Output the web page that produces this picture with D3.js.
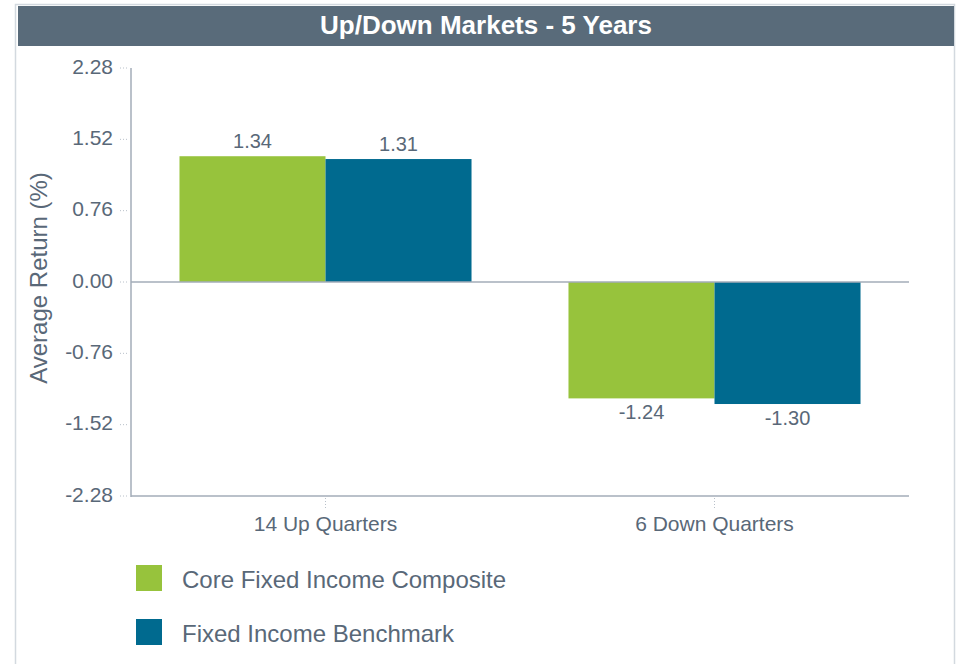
<!DOCTYPE html>
<html>
<head>
<meta charset="utf-8">
<script src="https://cdn.jsdelivr.net/npm/d3@7"></script>
<style>
  body { margin: 0; background: #fff; font-family: "Liberation Sans", Arial, sans-serif; }
</style>
</head>
<body>
<div id="chart"></div>
<script>
const categories = ['14 Up Quarters', '6 Down Quarters']
const seriesNames = ['Core Fixed Income Composite', 'Fixed Income Benchmark']
const composite = [1.34, -1.24]
const benchmark = [1.31, -1.30]
const yTicks = [2.28, 1.52, 0.76, 0.00, -0.76, -1.52, -2.28]

const colors = ['#97c33c', '#006a8f']
const textColor = '#596878'
const axisColor = '#a3adb9'

const width = 961, height = 664

const svg = d3.select('#chart').append('svg')
    .attr('width', width)
    .attr('height', height)

// outer frame + title bar
svg.append('rect')
    .attr('x', 15.5).attr('y', 4.5)
    .attr('width', 939).attr('height', 670)
    .attr('fill', 'none').attr('stroke', '#d3d9df').attr('stroke-width', 1.5)

svg.append('rect')
    .attr('x', 18).attr('y', 6)
    .attr('width', 936).attr('height', 40)
    .attr('fill', '#596b7a')

svg.append('text')
    .attr('x', 486).attr('y', 34)
    .attr('text-anchor', 'middle')
    .attr('fill', '#fff')
    .attr('font-size', 26)
    .attr('font-weight', 'bold')
    .text('Up/Down Markets - 5 Years')

const x0 = d3.scaleBand()
    .domain(categories)
    .range([131, 909])

const x1 = d3.scaleBand()
    .domain(seriesNames)
    .range([0, x0.bandwidth()])
    .paddingOuter(0.332)

const y = d3.scaleLinear()
    .domain([-2.28, 2.28])
    .range([496, 68])

// y ticks: dotted stubs + labels
const yg = svg.append('g')
yTicks.forEach(t => {
    yg.append('line')
        .attr('x1', 120).attr('x2', 129)
        .attr('y1', y(t)).attr('y2', y(t))
        .attr('stroke', '#b8c0c9')
        .attr('stroke-dasharray', '1,2')
    yg.append('text')
        .attr('x', 113).attr('y', y(t) + 5.5)
        .attr('text-anchor', 'end')
        .attr('fill', textColor)
        .attr('font-size', 21)
        .text(t.toFixed(2))
})

// y axis title
svg.append('text')
    .attr('transform', `translate(47,278) rotate(-90)`)
    .attr('text-anchor', 'middle')
    .attr('fill', textColor)
    .attr('font-size', 24)
    .text('Average Return (%)')

// bars
const rows = categories.map((c, i) => ({ cat: c, vals: [composite[i], benchmark[i]] }))

const groups = svg.selectAll('g.grp')
    .data(rows)
    .enter().append('g')
    .attr('class', 'grp')
    .attr('transform', d => `translate(${x0(d.cat)},0)`)

groups.selectAll('rect')
    .data(d => d.vals.map((v, j) => ({ v, name: seriesNames[j], j })))
    .enter().append('rect')
    .attr('x', d => x1(d.name))
    .attr('width', x1.bandwidth())
    .attr('y', d => y(Math.max(0, d.v)))
    .attr('height', d => Math.abs(y(d.v) - y(0)))
    .attr('fill', d => colors[d.j])

groups.selectAll('text')
    .data(d => d.vals.map((v, j) => ({ v, name: seriesNames[j], j })))
    .enter().append('text')
    .attr('x', d => x1(d.name) + x1.bandwidth() / 2)
    .attr('y', d => d.v >= 0 ? y(d.v) - 8 : y(d.v) + 20.5)
    .attr('text-anchor', 'middle')
    .attr('fill', textColor)
    .attr('font-size', 20)
    .text(d => d.v.toFixed(2))

// axes lines
svg.append('line')
    .attr('x1', 131).attr('x2', 131)
    .attr('y1', 68).attr('y2', 497)
    .attr('stroke', axisColor).attr('stroke-width', 1.5)

svg.append('line')
    .attr('x1', 131).attr('x2', 909)
    .attr('y1', y(0)).attr('y2', y(0))
    .attr('stroke', axisColor).attr('stroke-width', 1.5)

svg.append('line')
    .attr('x1', 131).attr('x2', 909)
    .attr('y1', 496).attr('y2', 496)
    .attr('stroke', axisColor).attr('stroke-width', 1.5)

// category ticks + labels
categories.forEach(c => {
    const cx = x0(c) + x0.bandwidth() / 2
    svg.append('line')
        .attr('x1', cx).attr('x2', cx)
        .attr('y1', 498).attr('y2', 509)
        .attr('stroke', '#b8c0c9')
        .attr('stroke-dasharray', '1,2')
    svg.append('text')
        .attr('x', cx).attr('y', 531)
        .attr('text-anchor', 'middle')
        .attr('fill', textColor)
        .attr('font-size', 21)
        .text(c)
})

// legend
const legend = svg.selectAll('g.leg')
    .data(seriesNames)
    .enter().append('g')
    .attr('class', 'leg')
    .attr('transform', (d, i) => `translate(136,${565 + i * 54})`)

legend.append('rect')
    .attr('width', 26).attr('height', 26)
    .attr('fill', (d, i) => colors[i])

legend.append('text')
    .attr('x', 46).attr('y', 23)
    .attr('fill', textColor)
    .attr('font-size', 24)
    .text(d => d)
</script>
</body>
</html>
